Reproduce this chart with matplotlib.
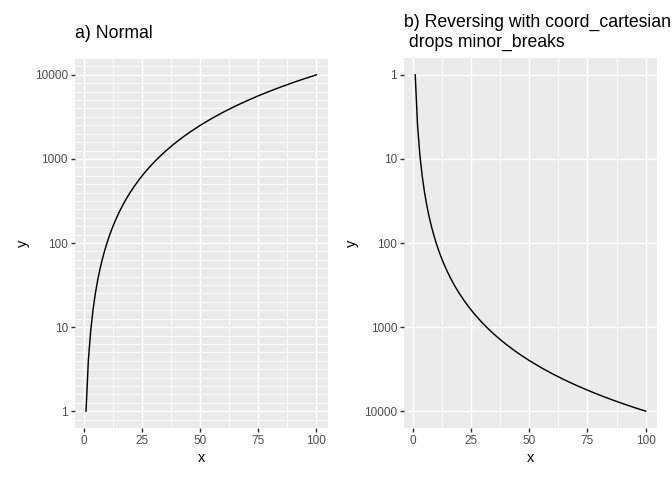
import matplotlib
matplotlib.use("Agg")
import matplotlib.pyplot as plt
from matplotlib.ticker import FixedLocator, FixedFormatter, NullFormatter, NullLocator

plt.rcParams['font.family'] = ['Liberation Sans', 'DejaVu Sans']

# points (y on a log10 scale)
x = [1, 2, 3, 4, 5, 6, 7, 8, 9, 10, 11, 12, 13, 14, 15, 16, 17, 18, 19, 20,
     22, 24, 26, 28, 30, 32, 34, 36, 38, 40, 43, 46, 50, 55, 60, 65, 70,
     75, 80, 85, 90, 95, 100]
y = [1, 4, 9, 16, 25, 36, 49, 64, 81, 100, 121, 144, 169, 196, 225, 256,
     289, 324, 361, 400, 484, 576, 676, 784, 900, 1024, 1156, 1296, 1444,
     1600, 1849, 2116, 2500, 3025, 3600, 4225, 4900, 5625, 6400, 7225,
     8100, 9025, 10000]

x_breaks = [0, 25, 50, 75, 100]
x_minor = [12.5, 37.5, 62.5, 87.5]
y_breaks = [1, 10, 100, 1000, 10000]
y_labels = ["1", "10", "100", "1000", "10000"]
# minor breaks every tenth of a decade
y_minor = [10 ** (k / 10) for k in range(-2, 43) if k % 10 != 0]

W, H = 672, 480
fig = plt.figure(figsize=(W / 96, H / 96), dpi=96)

bg = "#EBEBEB"
ylo, yhi = 10 ** -0.2, 10 ** 4.2
xlo, xhi = 1 - 0.05 * 99, 100 + 0.05 * 99


def make_panel(left, reverse, title, tx, tys):
    ax = fig.add_axes([left / W, (H - 428) / H, 253.5 / W, 370 / H])
    ax.set_facecolor(bg)
    for s in ax.spines.values():
        s.set_visible(False)
    ax.plot(x, y, color="black", lw=1.07, zorder=3)
    ax.set_yscale("log")
    ax.set_xlim(xlo, xhi)
    if reverse:
        ax.set_ylim(yhi, ylo)
    else:
        ax.set_ylim(ylo, yhi)
    ax.xaxis.set_major_locator(FixedLocator(x_breaks))
    ax.xaxis.set_major_formatter(FixedFormatter([str(v) for v in x_breaks]))
    ax.xaxis.set_minor_locator(FixedLocator(x_minor))
    ax.xaxis.set_minor_formatter(NullFormatter())
    ax.yaxis.set_major_locator(FixedLocator(y_breaks))
    ax.yaxis.set_major_formatter(FixedFormatter(y_labels))
    if reverse:
        ax.yaxis.set_minor_locator(NullLocator())
    else:
        ax.yaxis.set_minor_locator(FixedLocator(y_minor))
    ax.yaxis.set_minor_formatter(NullFormatter())
    ax.set_axisbelow(True)
    ax.grid(which="major", color="white", lw=1.07)
    ax.grid(which="minor", color="white", lw=0.53)
    ax.tick_params(which="major", length=2.75, width=1.07, color="#333333",
                   labelsize=8.8, labelcolor="#4D4D4D", pad=2.2)
    ax.tick_params(which="minor", length=0)
    ax.set_xlabel("x", fontsize=11, labelpad=3)
    ax.set_ylabel("y", fontsize=11, labelpad=4)
    for line, ty in zip(title.split("\n"), tys):
        fig.text(tx / W, 1 - ty / H, line, fontsize=13.2, ha="left",
                 va="baseline")
    return ax


make_panel(74.5, False, "a) Normal", 75, [37.7])
make_panel(403.7, True, "b) Reversing with coord_cartesian\n drops minor_breaks",
           403.7, [27.3, 46.5])

fig.savefig("out.png", dpi=96)
